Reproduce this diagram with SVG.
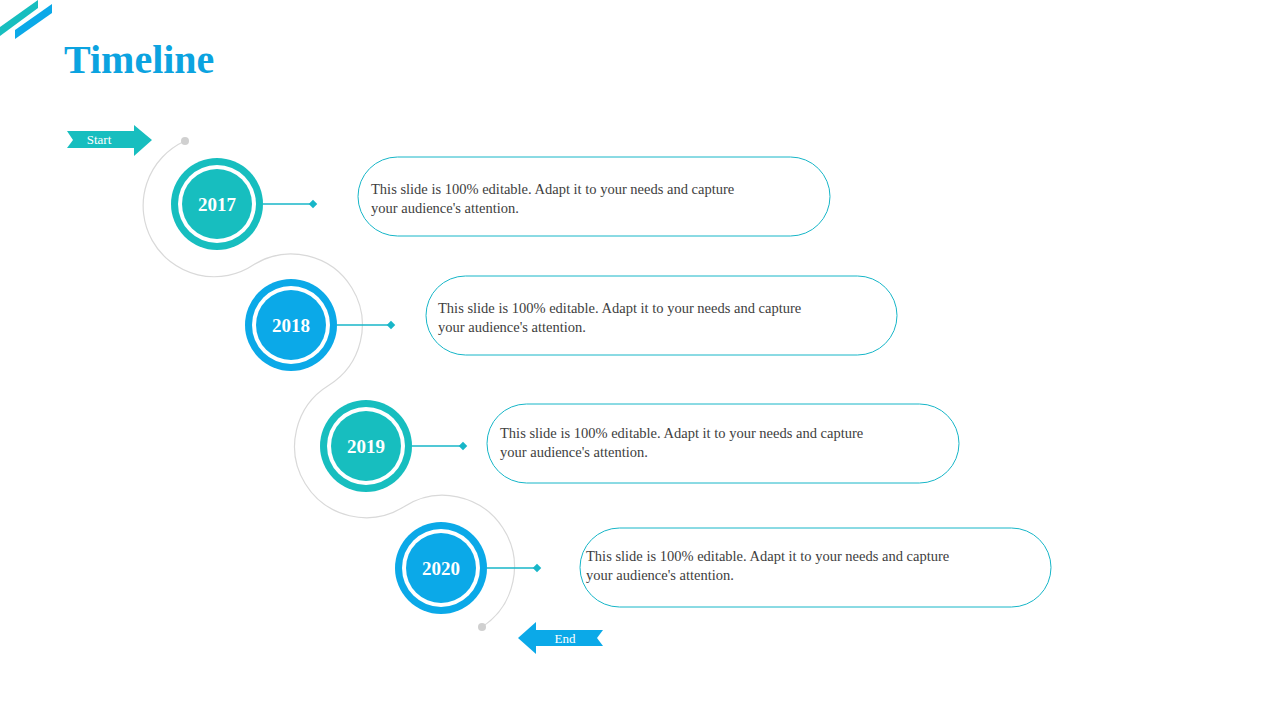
<svg xmlns="http://www.w3.org/2000/svg" width="1280" height="720" viewBox="0 0 1280 720">
<style>
.t{font-family:"Liberation Serif",serif;font-size:14.5px;fill:#404040}
.yr{font-family:"Liberation Serif",serif;font-size:19px;font-weight:bold;fill:#fff;text-anchor:middle}
.pill{fill:#fff;stroke:#17B6C8;stroke-width:1}
.ln{stroke:#17B6C8;stroke-width:1.3}
.teal{fill:#17BEBF}.blue{fill:#0BA9E8}
</style>
<rect width="1280" height="720" fill="#fff"/>
<polygon points="0,27 38,0 38,8 0,36" fill="#17BEBF"/>
<polygon points="15,30 52,4 52,13 15,39" fill="#0BA9E8"/>
<text x="64" y="73" font-family="Liberation Serif,serif" font-size="40" font-weight="bold" fill="#0BA3E0">Timeline</text>
<g id="connectors">
<path d="M185,141 A71,71 0 1 0 254,264.5 A71,71 0 1 1 328.5,385.5 A71,71 0 1 0 403.5,507 A71,71 0 0 1 482,627" fill="none" stroke="#d9d9d9" stroke-width="1.2"/>
<circle cx="185" cy="141" r="4" fill="#d0d0d0"/><circle cx="482" cy="627" r="4" fill="#d0d0d0"/>
<line class="ln" x1="263" y1="204" x2="313" y2="204"/><rect x="310" y="201" width="6" height="6" transform="rotate(45 313 204)" fill="#17B6C8"/>
<line class="ln" x1="337" y1="325" x2="391" y2="325"/><rect x="388" y="322" width="6" height="6" transform="rotate(45 391 325)" fill="#17B6C8"/>
<line class="ln" x1="412" y1="446" x2="463" y2="446"/><rect x="460" y="443" width="6" height="6" transform="rotate(45 463 446)" fill="#17B6C8"/>
<line class="ln" x1="487" y1="568" x2="537" y2="568"/><rect x="534" y="565" width="6" height="6" transform="rotate(45 537 568)" fill="#17B6C8"/>
</g>
<g id="start"><polygon points="67,131 134,131 134,125 152,140 134,156 134,148 67,148 73,140" fill="#17BEBF"/><text x="99" y="144" font-family="Liberation Serif,serif" font-size="13" fill="#fff" text-anchor="middle">Start</text></g>
<g id="end"><polygon points="603,630 536,630 536,622 518,638 536,654 536,646 603,646 597,638" fill="#0BA9E8"/><text x="565" y="643" font-family="Liberation Serif,serif" font-size="13" fill="#fff" text-anchor="middle">End</text></g>
<g id="n2017"><circle cx="217" cy="204" r="46" class="teal"/><circle cx="217" cy="204" r="39" fill="#fff"/><circle cx="217" cy="204" r="35" class="teal"/><text class="yr" x="217" y="211">2017</text></g>
<g id="n2018"><circle cx="291" cy="325" r="46" class="blue"/><circle cx="291" cy="325" r="39" fill="#fff"/><circle cx="291" cy="325" r="35" class="blue"/><text class="yr" x="291" y="332">2018</text></g>
<g id="n2019"><circle cx="366" cy="446" r="46" class="teal"/><circle cx="366" cy="446" r="39" fill="#fff"/><circle cx="366" cy="446" r="35" class="teal"/><text class="yr" x="366" y="453">2019</text></g>
<g id="n2020"><circle cx="441" cy="568" r="46" class="blue"/><circle cx="441" cy="568" r="39" fill="#fff"/><circle cx="441" cy="568" r="35" class="blue"/><text class="yr" x="441" y="575">2020</text></g>
<g id="b2017"><rect class="pill" x="358" y="157" width="472" height="79" rx="39.5"/><text class="t" x="371" y="194">This slide is 100% editable. Adapt it to your needs and capture</text><text class="t" x="371" y="213">your audience's attention.</text></g>
<g id="b2018"><rect class="pill" x="426" y="276" width="471" height="79" rx="39.5"/><text class="t" x="438" y="313">This slide is 100% editable. Adapt it to your needs and capture</text><text class="t" x="438" y="332">your audience's attention.</text></g>
<g id="b2019"><rect class="pill" x="487" y="404" width="472" height="79" rx="39.5"/><text class="t" x="500" y="438">This slide is 100% editable. Adapt it to your needs and capture</text><text class="t" x="500" y="457">your audience's attention.</text></g>
<g id="b2020"><rect class="pill" x="580" y="528" width="471" height="79" rx="39.5"/><text class="t" x="586" y="561">This slide is 100% editable. Adapt it to your needs and capture</text><text class="t" x="586" y="580">your audience's attention.</text></g>
</svg>
